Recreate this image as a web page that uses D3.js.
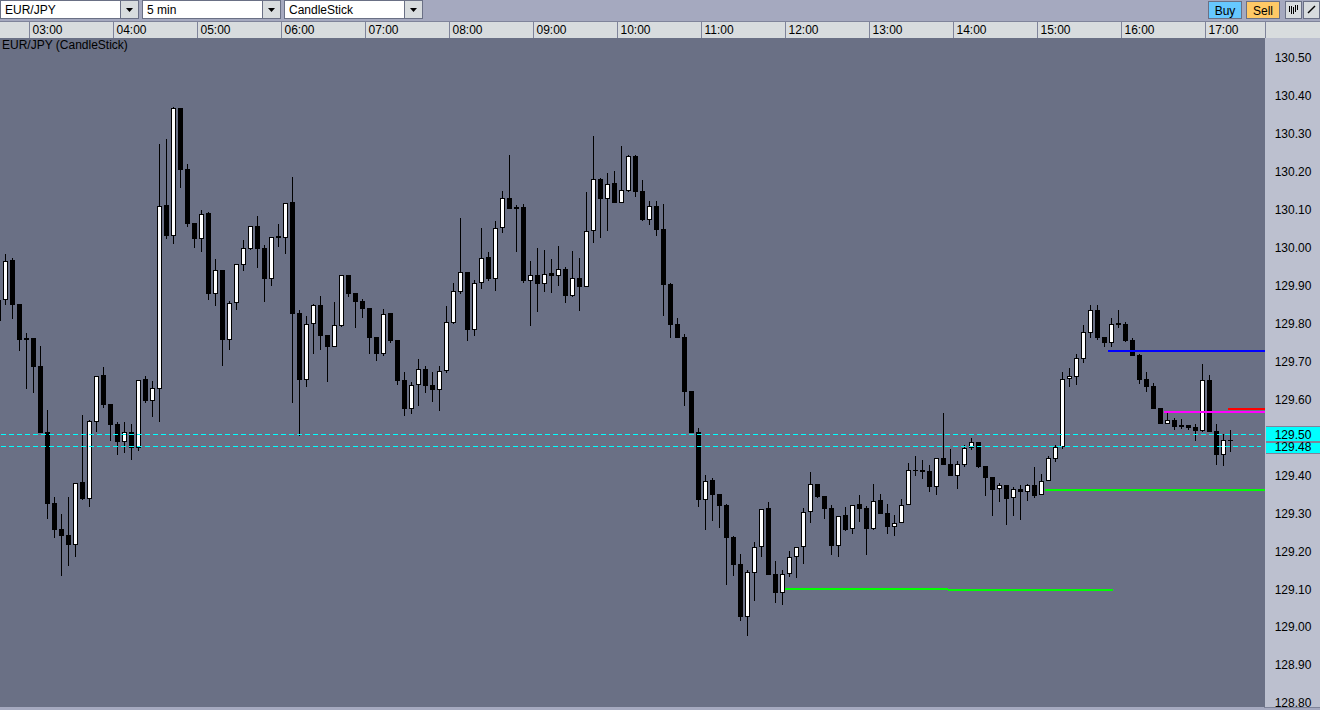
<!DOCTYPE html>
<html><head><meta charset="utf-8">
<script src="https://cdn.jsdelivr.net/npm/d3@7"></script>
<style>html,body{margin:0;padding:0;background:#a5a9bf;overflow:hidden}svg{display:block}text{font-family:"Liberation Sans",Arial,sans-serif;font-size:12px;fill:#000}</style>
</head><body><div id="chart"></div>
<script>
const opens=[129.863,
129.863,129.967,129.851,129.757,129.763,129.688,129.514,129.326,129.258,129.242,
129.216,129.382,129.338,129.541,129.664,129.587,129.535,129.488,129.514,129.473,
129.653,129.596,129.628,130.112,130.031,130.368,130.207,130.065,130.023,130.091,
129.878,129.942,129.757,129.855,129.955,129.997,130.058,129.998,129.918,130.030,
130.026,130.120,129.827,129.651,129.799,129.848,129.769,129.739,129.793,129.928,
129.880,129.859,129.840,129.764,129.720,129.827,129.756,129.651,129.575,129.638,
129.680,129.638,129.625,129.675,129.802,129.884,129.935,129.783,129.907,129.975,
129.918,130.052,130.131,130.107,130.107,129.913,129.928,129.905,129.933,129.926,
129.943,129.873,129.920,129.897,130.045,130.181,130.129,130.170,130.118,130.150,
130.241,130.149,130.074,130.110,130.049,129.904,129.798,129.764,129.622,129.514,
129.335,129.387,129.350,129.321,129.237,129.166,129.027,129.143,129.211,129.313,
129.139,129.090,129.140,129.185,129.211,129.304,129.377,129.345,129.313,129.214,
129.295,129.259,129.324,129.313,129.259,129.334,129.300,129.264,129.275,129.323,
129.414,129.414,129.412,129.370,129.446,129.430,129.399,129.428,129.471,129.488,
129.425,129.396,129.363,129.375,129.339,129.364,129.357,129.375,129.347,129.384,
129.444,129.474,129.655,129.660,129.707,129.776,129.836,129.764,129.749,129.801,
129.799,129.757,129.717,129.654,129.635,129.577,129.536,129.546,129.532,129.532,
129.528,129.517,129.651,129.517,129.454,129.493];
const highs=[129.863,
129.983,129.974,129.851,129.774,129.763,129.742,129.572,129.342,129.297,129.342,
129.381,129.558,129.545,129.663,129.685,129.587,129.540,129.540,129.535,129.652,
129.661,129.648,130.273,130.286,130.371,130.368,130.220,130.065,130.099,130.094,
129.970,129.942,129.859,129.956,130.020,130.058,130.083,130.007,130.029,130.062,
130.119,130.186,129.835,129.819,129.851,129.872,129.769,129.856,129.927,129.928,
129.880,129.864,129.840,129.764,129.838,129.827,129.756,129.672,129.645,129.706,
129.688,129.672,129.688,129.846,129.907,130.078,129.935,129.914,130.052,129.988,
130.070,130.149,130.244,130.112,130.115,129.965,129.999,129.994,129.970,130.004,
129.949,129.991,129.972,130.146,130.294,130.183,130.197,130.202,130.268,130.244,
130.244,130.178,130.123,130.123,130.115,129.907,129.814,129.772,129.622,129.524,
129.400,129.394,129.350,129.324,129.239,129.192,129.150,129.224,129.312,129.329,
129.173,129.150,129.200,129.212,129.313,129.408,129.377,129.345,129.321,129.294,
129.316,129.323,129.348,129.318,129.377,129.350,129.324,129.295,129.337,129.433,
129.451,129.441,129.428,129.445,129.565,129.470,129.438,129.480,129.499,129.488,
129.425,129.396,129.380,129.375,129.370,129.375,129.377,129.422,129.404,129.451,
129.480,129.672,129.683,129.720,129.796,129.849,129.849,129.764,129.815,129.836,
129.804,129.762,129.720,129.672,129.643,129.577,129.569,129.551,129.548,129.532,
129.535,129.693,129.664,129.535,129.509,129.519];
const lows=[129.807,
129.848,129.811,129.727,129.627,129.616,129.512,129.284,129.234,129.134,129.160,
129.184,129.334,129.316,129.513,129.577,129.490,129.453,129.458,129.440,129.463,
129.590,129.553,129.540,130.022,130.009,130.157,130.054,129.999,129.988,129.862,
129.846,129.688,129.730,129.835,129.938,129.993,129.946,129.856,129.899,130.001,
129.983,129.590,129.503,129.632,129.719,129.730,129.645,129.739,129.790,129.870,
129.788,129.814,129.719,129.701,129.714,129.748,129.637,129.556,129.561,129.582,
129.616,129.593,129.569,129.669,129.798,129.878,129.754,129.767,129.891,129.912,
129.885,130.038,130.102,129.988,129.907,129.793,129.830,129.883,129.880,129.899,
129.854,129.870,129.833,129.897,130.012,130.025,130.044,130.117,130.118,130.146,
130.133,130.070,130.059,130.030,129.820,129.761,129.761,129.582,129.511,129.316,
129.255,129.279,129.260,129.110,129.134,129.015,128.976,129.068,129.184,129.137,
129.063,129.057,129.131,129.129,129.166,129.274,129.340,129.284,129.189,129.184,
129.253,129.245,129.276,129.189,129.255,129.297,129.245,129.239,129.275,129.323,
129.399,129.391,129.356,129.349,129.428,129.399,129.364,129.422,129.467,129.420,
129.346,129.293,129.330,129.269,129.293,129.283,129.333,129.341,129.347,129.384,
129.435,129.469,129.633,129.638,129.696,129.762,129.757,129.738,129.738,129.788,
129.751,129.714,129.640,129.619,129.575,129.535,129.536,129.519,129.522,129.519,
129.490,129.514,129.514,129.427,129.424,129.461];
const closes=[129.807,
129.966,129.849,129.756,129.763,129.686,129.512,129.324,129.255,129.239,129.216,
129.381,129.337,129.542,129.663,129.585,129.532,129.487,129.513,129.471,129.652,
129.595,129.629,130.111,130.030,130.367,130.204,130.062,130.022,130.090,129.877,
129.942,129.757,129.855,129.956,129.998,130.058,129.997,129.917,130.029,130.026,
130.119,129.825,129.651,129.800,129.848,129.767,129.738,129.795,129.927,129.877,
129.856,129.838,129.761,129.719,129.826,129.753,129.648,129.574,129.639,129.679,
129.635,129.624,129.676,129.803,129.885,129.935,129.783,129.908,129.974,129.917,
130.053,130.130,130.102,130.102,129.912,129.927,129.904,129.931,129.925,129.943,
129.872,129.919,129.896,130.045,130.180,130.128,130.169,130.117,130.151,130.241,
130.147,130.073,130.109,130.046,129.901,129.796,129.761,129.619,129.511,129.334,
129.386,129.348,129.319,129.234,129.163,129.026,129.144,129.212,129.312,129.137,
129.089,129.141,129.186,129.212,129.304,129.376,129.342,129.311,129.213,129.294,
129.257,129.323,129.311,129.258,129.333,129.297,129.263,129.275,129.323,129.414,
129.412,129.409,129.370,129.445,129.428,129.399,129.429,129.472,129.487,129.422,
129.393,129.362,129.374,129.338,129.363,129.356,129.374,129.346,129.385,129.445,
129.474,129.655,129.661,129.708,129.777,129.835,129.762,129.749,129.800,129.796,
129.754,129.714,129.651,129.633,129.575,129.535,129.545,129.527,129.527,129.524,
129.517,129.651,129.514,129.453,129.492,129.490];
const firstCandle=-1;
const hourLabels=["03:00","04:00","05:00","06:00","07:00","08:00","09:00","10:00","11:00","12:00","13:00","14:00","15:00","16:00","17:00"];
const hourCandles=[4,16,28,40,52,64,76,88,100,112,124,136,148,160,172];
const priceTicks=[130.50,130.40,130.30,130.20,130.10,130.00,129.90,129.80,129.70,129.60,129.40,129.30,129.20,129.10,129.00,128.90,128.80];
const levelPrices=[129.101,129.099,129.361,129.728,129.566,129.576];
const levelStart=[111.3,134.6,148.5,157.5,165.5,174.6];
const levelEnd=[134.6,158.2,180,180,180,180];
const levelColors=["#00ff00","#00ff00","#00ff00","#0000ff","#ff00ff","#ff0000"];
const quotePrices=[129.509,129.477];
const quoteLabels=["129.50","129.48"];
const selectors=["EUR/JPY","5 min","CandleStick"];

const W=1320,H=710,PR=1265,PT=38,PB=707;
const x=d3.scaleLinear().domain([0,175]).range([5.5,5.5+7*175]);
const y=d3.scaleLinear().domain([130.5,128.8]).range([58,703]);
const svg=d3.select("#chart").append("svg").attr("width",W).attr("height",H);
const px=v=>Math.round(v);

svg.append("rect").attr("width",W).attr("height",H).attr("fill","#a5a9bf");
// plot
svg.append("rect").attr("x",0).attr("y",PT).attr("width",PR).attr("height",PB-PT).attr("fill","#6a7085");
svg.append("rect").attr("x",PR).attr("y",PT).attr("width",W-PR).attr("height",PB-PT).attr("fill","#bcc0cf");
const defs=svg.append("defs");
defs.append("clipPath").attr("id","plot").append("rect").attr("x",0).attr("y",PT).attr("width",PR).attr("height",PB-PT);
const plot=svg.append("g").attr("clip-path","url(#plot)").attr("shape-rendering","crispEdges");

// candles
const candles=opens.map((o,i)=>({k:i+firstCandle,o,h:highs[i],l:lows[i],c:closes[i]}));
const cg=plot.selectAll("g.c").data(candles).join("g").attr("class","c");
cg.append("rect").attr("x",d=>x(d.k)-.5).attr("width",1)
  .attr("y",d=>px(y(d.h))).attr("height",d=>Math.max(0,px(y(d.l))-px(y(d.h)))).attr("fill","#000");
cg.each(function(d){
  const g=d3.select(this),t=px(y(Math.max(d.o,d.c))),b=px(y(Math.min(d.o,d.c)));
  if(d.c>=d.o){
    g.append("rect").attr("x",x(d.k)-2.5).attr("y",t).attr("width",5).attr("height",Math.max(2,b-t)).attr("fill","#000");
    g.append("rect").attr("x",x(d.k)-1.5).attr("y",t+1).attr("width",3).attr("height",Math.max(0,b-t-2)).attr("fill","#fff");
  }else{
    g.append("rect").attr("x",x(d.k)-2.5).attr("y",t).attr("width",5).attr("height",Math.max(1,b-t)).attr("fill","#000");
  }
});

// quote lines
plot.selectAll("line.q").data(quotePrices).join("line").attr("class","q")
  .attr("x1",1).attr("x2",PR-4).attr("y1",d=>px(y(d))+.5).attr("y2",d=>px(y(d))+.5)
  .attr("stroke","#00ffff").attr("stroke-width",1).attr("stroke-dasharray","5,3");
// level lines
plot.selectAll("rect.l").data(levelPrices).join("rect").attr("class","l")
  .attr("x",(d,i)=>x(levelStart[i])).attr("width",(d,i)=>x(levelEnd[i])-x(levelStart[i]))
  .attr("y",d=>px(y(d))-1).attr("height",2).attr("fill",(d,i)=>levelColors[i]);

// price axis
const ay=svg.append("g").attr("transform",`translate(${PR},0)`).call(d3.axisRight(y).tickValues(priceTicks).tickFormat(d3.format(".2f")).tickSize(0).tickPadding(0));
ay.select(".domain").remove();
ay.selectAll("text").attr("x",28).attr("text-anchor","middle").attr("style","font-family:'Liberation Sans',Arial,sans-serif;font-size:12px;fill:#000").attr("dy","0.32em");
// quote boxes
const boxTop=[427,443],boxHeight=[14,10];
const qb=svg.append("g").selectAll("g").data(quotePrices).join("g");
qb.append("rect").attr("x",PR+1).attr("width",W-PR-1).attr("y",(d,i)=>boxTop[i]-1).attr("height",(d,i)=>boxHeight[i]+2).attr("fill","#7f849a");
qb.append("rect").attr("x",PR+1).attr("width",W-PR-1).attr("y",(d,i)=>boxTop[i]).attr("height",(d,i)=>boxHeight[i]).attr("fill","#00ffff");
qb.append("text").attr("x",PR+28).attr("y",d=>px(y(d))+.5).attr("dy","0.36em").attr("text-anchor","middle").text((d,i)=>quoteLabels[i]);

// time axis row
svg.append("rect").attr("x",0).attr("y",22).attr("width",W).attr("height",16).attr("fill","#d8dcde");
svg.append("rect").attr("x",0).attr("y",21).attr("width",W).attr("height",1).attr("fill","#7f849a");
svg.append("rect").attr("x",PR).attr("y",22).attr("width",1).attr("height",16).attr("fill","#7f849a");
const timeX=d3.scaleLinear().domain(d3.extent(hourCandles)).range([x(hourCandles[0])-4.5,x(hourCandles[hourCandles.length-1])-4.5]);
const ax=svg.append("g").attr("transform","translate(0,22)").call(d3.axisBottom(timeX).tickValues(hourCandles).tickFormat((d,i)=>hourLabels[i]).tickSize(16).tickPadding(0));
ax.select(".domain").remove();
ax.selectAll("line").attr("stroke","#7f849a").attr("shape-rendering","crispEdges");
ax.selectAll("text").attr("text-anchor","start").attr("x",3).attr("y",3).attr("dy","0.71em").attr("style","font-family:'Liberation Sans',Arial,sans-serif;font-size:12px;fill:#000");

// title
svg.append("text").attr("x",2).attr("y",49).text("EUR/JPY (CandleStick)");

// bottom band, over the clipped last price label
svg.append("rect").attr("x",0).attr("y",PB).attr("width",W).attr("height",H-PB).attr("fill","#a5a9bf");
svg.append("rect").attr("x",PR-1).attr("y",PB).attr("width",W-PR+1).attr("height",1).attr("fill","#7f849a");

// toolbar selectors
const selectorX=[1,143,285];
const sel=svg.append("g").selectAll("g").data(selectors).join("g").attr("transform",(d,i)=>`translate(${selectorX[i]},1)`);
sel.append("rect").attr("x",-.5).attr("y",-.5).attr("width",138).attr("height",18).attr("fill","#fff").attr("stroke","#6a7085").attr("shape-rendering","crispEdges");
sel.append("rect").attr("x",120).attr("y",0).attr("width",17).attr("height",17).attr("fill","#d8dcde");
sel.append("rect").attr("x",119).attr("y",0).attr("width",1).attr("height",17).attr("fill","#6a7085");
sel.append("path").attr("d","M125 7h7l-3.5 4z").attr("fill","#000");
sel.append("text").attr("x",4).attr("y",13).text(d=>d);

// buttons
const btnText=["Buy","Sell"],btnX=[1208,1246],btnFill=["#66c8ff","#ffc966"];
const bb=svg.append("g").selectAll("g").data(btnText).join("g").attr("transform",(d,i)=>`translate(${btnX[i]},1)`);
bb.append("rect").attr("x",.5).attr("y",.5).attr("width",33).attr("height",17).attr("fill",(d,i)=>btnFill[i]).attr("stroke","#6a7085").attr("shape-rendering","crispEdges");
bb.append("text").attr("x",17).attr("y",14).attr("text-anchor","middle").text(d=>d);
const iconX=[1285,1303];
svg.append("g").selectAll("rect").data(iconX).join("rect").attr("x",d=>d+.5).attr("y",1.5).attr("width",16).attr("height",17).attr("fill","#d8dcde").attr("stroke","#6a7085").attr("shape-rendering","crispEdges");
svg.append("path").attr("d","M1289.5 6v6M1291.5 6v8M1293.5 7v7M1295.5 5v7M1297.5 5v5").attr("stroke","#000").attr("fill","none").attr("shape-rendering","crispEdges");
svg.append("path").attr("d","M1308 13L1315 6").attr("stroke","#000").attr("stroke-width",1.4).attr("fill","none");
</script></body></html>
